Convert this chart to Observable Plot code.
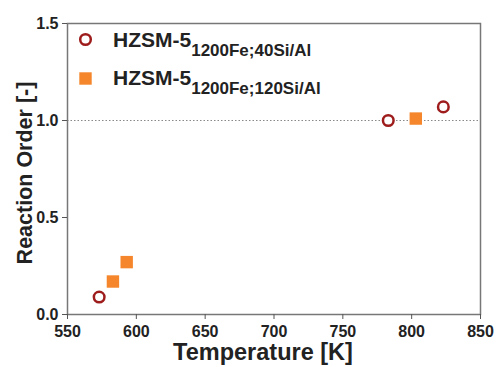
<!DOCTYPE html>
<html><head><meta charset="utf-8">
<script src="https://cdn.jsdelivr.net/npm/d3@7"></script>
<script src="https://cdn.jsdelivr.net/npm/@observablehq/plot@0.6"></script>
<style>body{margin:0;background:#fff;}</style>
</head><body><div id="chart"></div>
<script>
const temps40 = [573, 783, 823];
const orders40 = [0.09, 1.0, 1.07];
const temps120 = [583, 593, 803];
const orders120 = [0.17, 0.27, 1.01];
const xTicks = [550, 600, 650, 700, 750, 800, 850];
const yTicks = [0, 0.5, 1.0, 1.5];
const refLine = [1.0];
const seriesNames = ["HZSM-5", "HZSM-5"];
const seriesSubs = ["1200Fe;40Si/Al", "1200Fe;120Si/Al"];
const xTitle = "Temperature [K]";
const yTitle = "Reaction Order [-]";

const red = "#9e1c1c", orange = "#f5862b";
const d40 = temps40.map((t, i) => ({t, o: orders40[i]}));
const d120 = temps120.map((t, i) => ({t, o: orders120[i]}));

const svg = Plot.plot({
  width: 496, height: 367,
  marginLeft: 67, marginRight: 16, marginTop: 23, marginBottom: 53,
  x: {domain: [550, 850]},
  y: {domain: [0, 1.5]},
  marks: [
    Plot.ruleY(refLine, {stroke: "#888", strokeWidth: 1, strokeDasharray: "1.5,2"}),
    Plot.frame({stroke: "#777", strokeWidth: 1.5}),
    Plot.axisX({ticks: xTicks, tickSize: 5, tickPadding: 6, tickFormat: d3.format("d"), fontSize: 16, fontWeight: "bold", fill: "#222", stroke: "#555", label: null}),
    Plot.axisY({ticks: yTicks, tickSize: 5, tickPadding: 4, tickFormat: d3.format(".1f"), fontSize: 16, fontWeight: "bold", fill: "#222", stroke: "#555", label: null}),
    Plot.dot(d120, {x: "t", y: "o", symbol: "square", r: 7, fill: orange, stroke: "none"}),
    Plot.dot(d40, {x: "t", y: "o", symbol: "circle", r: 5.3, fill: "white", stroke: red, strokeWidth: 2.5}),
    Plot.dot([0], {frameAnchor: "top-left", dx: 18, dy: 16, symbol: "circle", r: 5.3, fill: "white", stroke: red, strokeWidth: 2.5}),
    Plot.dot([0], {frameAnchor: "top-left", dx: 18, dy: 55, symbol: "square", r: 7, fill: orange, stroke: "none"})
  ]
});
svg.setAttribute("font-family", "'Liberation Sans', Arial, sans-serif");
svg.style.color = "#222";
const s = d3.select(svg);
const legY = [47, 85];
legY.forEach((y, i) => {
  const t = s.append("text").attr("x", 113).attr("y", y).attr("text-anchor", "start")
    .attr("font-size", 21).attr("font-weight", "bold").attr("fill", "#222");
  t.append("tspan").text(seriesNames[i]);
  t.append("tspan").attr("dy", 9).attr("font-size", 17).text(seriesSubs[i]);
});
s.append("text").attr("x", 263).attr("y", 360).attr("text-anchor", "middle")
  .attr("font-size", 23.5).attr("font-weight", "bold").attr("fill", "#222").text(xTitle);
s.append("text").attr("transform", "translate(32,173) rotate(-90)").attr("text-anchor", "middle")
  .attr("font-size", 21.5).attr("font-weight", "bold").attr("fill", "#222").text(yTitle);
document.getElementById("chart").appendChild(svg);
</script></body></html>
